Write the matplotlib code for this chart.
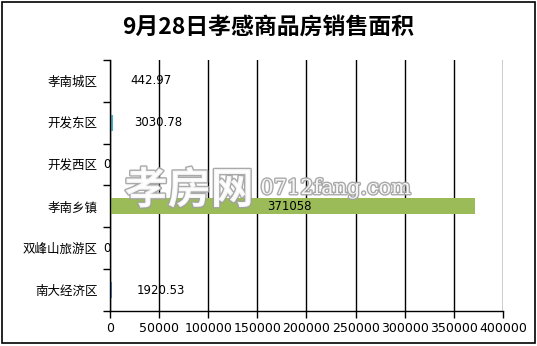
import matplotlib.pyplot as plt
import matplotlib.patheffects as pe
from matplotlib.patches import Rectangle

plt.rcParams['font.family'] = ['Noto Sans CJK SC', 'DejaVu Sans']

categories = ['孝南城区', '开发东区', '开发西区', '孝南乡镇', '双峰山旅游区', '南大经济区']
values = [442.97, 3030.78, 0, 371058, 0, 1920.53]
labels = ['442.97', '3030.78', '0', '371058', '0', '1920.53']
colors = ['#f79646', '#4bacc6', '#8064a2', '#9bbb59', '#c0504d', '#4f81bd']
xticks = [0, 50000, 100000, 150000, 200000, 250000, 300000, 350000, 400000]
# where each data label sits (x, in data units)
label_x = [41700, 48900, -3500, 183000, -3500, 51900]

fig = plt.figure(figsize=(5.37, 3.46), dpi=100)
fig.patches.append(Rectangle((0.004, 0.008), 0.992, 0.985, transform=fig.transFigure,
                             fill=False, edgecolor='black', linewidth=1.2))
ax = fig.add_axes([0.2048, 0.1012, 0.7319, 0.7254])

y = list(range(len(categories)))
ax.barh(y, values, height=0.38, color=colors, zorder=2)
ax.set_ylim(len(categories) - 0.5, -0.5)
ax.set_xlim(0, 400000)

ax.set_xticks(xticks)
ax.set_xticklabels([str(t) for t in xticks], fontsize=9, family='DejaVu Sans')
ax.set_yticks(y)
ax.set_yticklabels(categories, fontsize=9)
ax.set_yticks([i - 0.5 for i in range(len(categories) + 1)], minor=True)
ax.tick_params(axis='y', which='major', length=0, pad=9)
ax.tick_params(axis='y', which='minor', length=5, direction='out', width=1)
ax.tick_params(axis='x', length=5, direction='out', width=1, pad=3)
ax.grid(axis='x', color='black', linewidth=1, zorder=0)
ax.set_axisbelow(True)
for s in ['top', 'right']:
    ax.spines[s].set_visible(False)
for s in ['left', 'bottom']:
    ax.spines[s].set_linewidth(1)

for i, (lx, lab) in enumerate(zip(label_x, labels)):
    ax.text(lx, i, lab, ha='center', va='center', fontsize=8.5, family='DejaVu Sans', zorder=4)

# watermark
wm = [pe.withStroke(linewidth=2, foreground='#a0a0a0')]
fig.text(0.232, 0.45, '孝房网', fontsize=31, fontweight='bold', color='white', alpha=0.9,
         va='center', path_effects=wm, zorder=5)
fig.text(0.485, 0.455, '0712fang.com', fontsize=15, family='DejaVu Serif', color='white', alpha=0.9,
         va='center', path_effects=wm, zorder=5)

fig.text(0.5, 0.922, '9月28日孝感商品房销售面积', ha='center', va='center', fontsize=16.5, fontweight='bold')

fig.savefig('out.png', dpi=100)
